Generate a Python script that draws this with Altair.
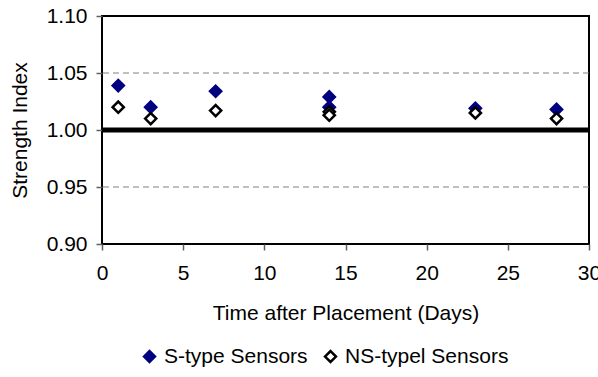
import altair as alt
import pandas as pd

# Strength index readings per sensor type
days_s = [1, 3, 7, 14, 14, 23, 28]
vals_s = [1.039, 1.020, 1.034, 1.029, 1.020, 1.019, 1.018]
days_ns = [1, 3, 7, 14, 14, 23, 28]
vals_ns = [1.020, 1.010, 1.017, 1.016, 1.013, 1.015, 1.010]

series_names = ["S-type Sensors", "NS-typel Sensors"]
x_ticks = [0, 5, 10, 15, 20, 25, 30]
y_ticks = [0.90, 0.95, 1.00, 1.05, 1.10]
grid_levels = [0.95, 1.05]
baseline_level = [1.00]

points = pd.DataFrame(
    {
        "day": days_s + days_ns,
        "value": vals_s + vals_ns,
        "series": [series_names[0]] * len(days_s) + [series_names[1]] * len(days_ns),
    }
)
grid_df = pd.DataFrame({"level": grid_levels})
base_df = pd.DataFrame({"level": baseline_level})

FONT = "Liberation Sans"

x_scale = alt.Scale(domain=[0, 30], nice=False, zero=False)
y_scale = alt.Scale(domain=[0.90, 1.10], nice=False, zero=False)

grid = (
    alt.Chart(grid_df)
    .mark_rule(color="#808080", strokeWidth=1, strokeDash=[6, 4])
    .encode(y=alt.Y("level:Q", scale=y_scale))
)

base = (
    alt.Chart(base_df)
    .mark_rule(color="black", strokeWidth=5)
    .encode(y=alt.Y("level:Q", scale=y_scale))
)

pts = (
    alt.Chart(points)
    .mark_point(shape="diamond", size=125, strokeWidth=2.5, opacity=1)
    .encode(
        x=alt.X(
            "day:Q",
            scale=x_scale,
            axis=alt.Axis(
                values=x_ticks,
                title="Time after Placement (Days)",
                titleY=69,
                titleBaseline="middle",
            ),
        ),
        y=alt.Y(
            "value:Q",
            scale=y_scale,
            axis=alt.Axis(
                values=y_ticks,
                format=".2f",
                title="Strength Index",
                titleX=-82,
                titleBaseline="middle",
            ),
        ),
        fill=alt.Fill(
            "series:N",
            scale=alt.Scale(domain=series_names, range=["#000080", "white"]),
            legend=alt.Legend(
                title=None,
                orient="none",
                direction="horizontal",
                legendX=37,
                legendY=330,
                symbolType="diamond",
                symbolSize=120,
                symbolStrokeWidth=2.5,
                labelFont=FONT,
                labelFontSize=21,
                labelColor="black",
                labelLimit=400,
                labelOffset=4,
                columnPadding=12,
            ),
        ),
        stroke=alt.Stroke(
            "series:N",
            scale=alt.Scale(domain=series_names, range=["#000080", "black"]),
            legend=None,
        ),
        order=alt.Order("series:N", sort="descending"),
    )
)

chart = (
    alt.layer(grid, base, pts)
    .properties(
        width=487,
        height=228,
        autosize=alt.AutoSizeParams(type="none"),
        padding={"left": 102, "top": 16, "right": 9, "bottom": 133},
        background="white",
    )
    .configure_view(stroke="black", strokeWidth=2)
    .configure_axis(
        grid=False,
        domain=False,
        tickColor="#606060",
        tickSize=6,
        tickWidth=1.5,
        labelFont=FONT,
        labelFontSize=21,
        labelColor="black",
        titleFont=FONT,
        titleFontSize=21,
        titleFontWeight="normal",
        titleColor="black",
    )
    .configure_axisY(labelPadding=9)
    .configure_axisX(labelPadding=12, labelOverlap=False, labelFlush=False)
)

chart.save("out.html", embed_options={"renderer": "svg", "actions": False})
